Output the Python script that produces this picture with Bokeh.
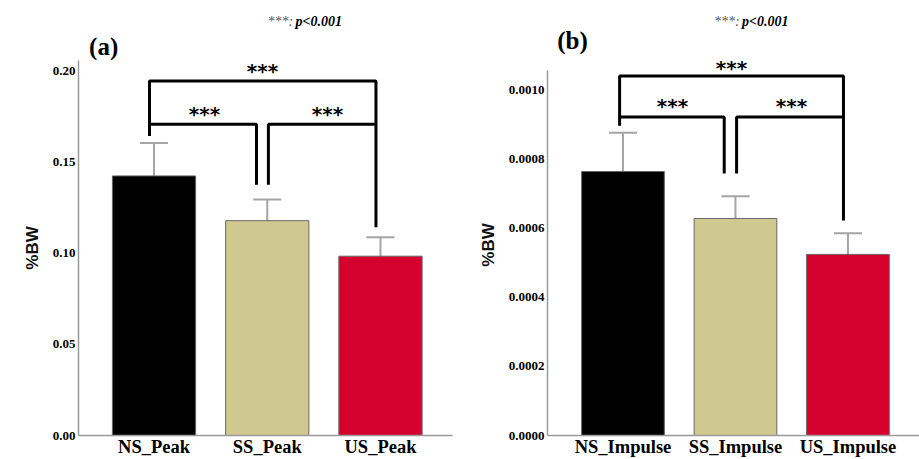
from bokeh.plotting import figure
from bokeh.models import ColumnDataSource, Whisker, TeeHead, Label, FixedTicker, Range1d
from bokeh.layouts import row, column
from bokeh.embed import file_html
from bokeh.resources import INLINE

# ---- data ----
peak_labels = ["NS_Peak", "SS_Peak", "US_Peak"]
peak_mean = [0.1426, 0.1180, 0.0985]
peak_lower = [0.1246, 0.1066, 0.0880]
peak_upper = [0.1607, 0.1297, 0.1089]

imp_labels = ["NS_Impulse", "SS_Impulse", "US_Impulse"]
imp_mean = [0.000764, 0.000628, 0.000524]
imp_lower = [0.000651, 0.000562, 0.000464]
imp_upper = [0.000876, 0.000692, 0.000585]

bar_colors = ["#000000", "#cfc98f", "#d6002f"]

peak_ticks = [0.00, 0.05, 0.10, 0.15, 0.20]
imp_ticks = [0.0, 0.0002, 0.0004, 0.0006, 0.0008, 0.0010]

SERIF = "Liberation Serif"
SANS = "Liberation Sans"
TOTAL_H = 459


def make_header(width, height, tag, tag_x, tag_y, note_x):
    h = figure(width=width, height=height, output_backend="svg", toolbar_location=None,
               x_range=Range1d(0, width), y_range=Range1d(height, 0),
               x_axis_type=None, y_axis_type=None,
               min_border_left=0, min_border_right=0, min_border_top=0, min_border_bottom=0)
    h.outline_line_color = None
    h.grid.visible = False
    h.add_layout(Label(x=tag_x, y=tag_y, text=tag, text_font=SERIF, text_font_style="bold",
                       text_font_size="25px", text_color="black",
                       text_baseline="middle", text_align="left"))
    h.add_layout(Label(x=note_x, y=21, text="***:", text_font=SERIF, text_font_style="italic",
                       text_font_size="14px", text_color="#555555",
                       text_baseline="middle", text_align="right"))
    h.add_layout(Label(x=note_x + 3, y=21, text="p<0.001", text_font=SERIF,
                       text_font_style="bold italic", text_font_size="14px",
                       text_color="black", text_baseline="middle", text_align="left"))
    return h


def make_panel(labels, mean, lower, upper, ticks, tick_fmt, y_end, y_axis_top, x_start, x_end,
               width, height, b_left, b_right, brackets, stars):
    xs = list(range(len(labels)))
    src = ColumnDataSource(dict(x=xs, top=mean, lower=lower, upper=upper, color=bar_colors))
    p = figure(width=width, height=height, output_backend="svg", toolbar_location=None,
               x_range=(x_start, x_end), y_range=(0, y_end),
               min_border_left=b_left, min_border_right=b_right,
               min_border_top=0, min_border_bottom=10)
    p.outline_line_color = None
    p.grid.visible = False
    p.background_fill_color = "white"
    p.border_fill_color = "white"

    p.vbar(x="x", top="top", width=0.735, bottom=0, source=src, fill_color="color",
           line_color="#666666", line_width=1)

    w = Whisker(base="x", lower="lower", upper="upper", source=src,
                line_color="#a5a5a5", line_width=2,
                upper_head=TeeHead(size=28, line_color="#a5a5a5", line_width=2),
                lower_head=TeeHead(size=28, line_color="#a5a5a5", line_width=2))
    p.add_layout(w)

    for bx, by in brackets:
        p.line(bx, by, line_color="black", line_width=3)
    for sx, sy in stars:
        p.text([sx], [sy], text=["***"], text_align="center", text_baseline="middle",
               text_font_size="20px", text_font_style="bold", text_color="black",
               y_offset=4, text_font={"value": "DejaVu Sans"})

    # axes
    p.xaxis.ticker = FixedTicker(ticks=xs)
    p.xaxis.major_label_overrides = {i: l for i, l in enumerate(labels)}
    p.xaxis.major_label_text_font = SERIF
    p.xaxis.major_label_text_font_style = "bold"
    p.xaxis.major_label_text_font_size = "18.5px"
    p.xaxis.major_label_text_color = "black"
    p.xaxis.major_label_standoff = 1
    p.xaxis.major_tick_out = 0
    p.xaxis.major_tick_in = 0
    p.xaxis.minor_tick_out = 0
    p.xaxis.minor_tick_in = 0
    p.xaxis.major_tick_line_color = None
    p.xaxis.minor_tick_line_color = None
    p.xaxis.axis_line_color = "#9a9a9a"
    p.xaxis.axis_line_width = 1.5

    p.yaxis.ticker = FixedTicker(ticks=ticks)
    p.yaxis.bounds = (0, y_axis_top)
    p.yaxis.major_label_overrides = {t: tick_fmt.format(t) for t in ticks}
    p.yaxis.major_label_text_font = SERIF
    p.yaxis.major_label_text_font_style = "bold"
    p.yaxis.major_label_text_font_size = "13px"
    p.yaxis.major_label_text_color = "black"
    p.yaxis.major_label_standoff = 3
    p.yaxis.major_tick_out = 0
    p.yaxis.major_tick_in = 0
    p.yaxis.minor_tick_out = 0
    p.yaxis.minor_tick_in = 0
    p.yaxis.major_tick_line_color = None
    p.yaxis.minor_tick_line_color = None
    p.yaxis.axis_line_color = "#9a9a9a"
    p.yaxis.axis_line_width = 1.5
    p.yaxis.axis_label = "%BW"
    p.yaxis.axis_label_text_font = SANS
    p.yaxis.axis_label_text_font_style = "bold"
    p.yaxis.axis_label_text_font_size = "17px"
    p.yaxis.axis_label_text_color = "#111111"
    p.yaxis.axis_label_standoff = 8
    return p


brackets_a = [
    ([-0.04, -0.04, 1.96, 1.96], [0.1645, 0.1947, 0.1947, 0.1144]),
    ([-0.04, 0.905, 0.905], [0.171, 0.171, 0.1377]),
    ([1.01, 1.01, 1.96], [0.1377, 0.171, 0.171]),
]
stars_a = [(0.958, 0.2027), (0.446, 0.179), (1.532, 0.179)]

brackets_b = [
    ([-0.03, -0.03, 1.96, 1.96], [0.000896, 0.00104, 0.00104, 0.000622]),
    ([-0.03, 0.90, 0.90], [0.000922, 0.000922, 0.000758]),
    ([1.01, 1.01, 1.96], [0.000758, 0.000922, 0.000922]),
]
stars_b = [(0.964, 0.001075), (0.44, 0.000965), (1.498, 0.000965)]

HEAD_A = 60
HEAD_B = 54
ha = make_header(460, HEAD_A, "(a)", 13, 46, 264)
hb = make_header(459, HEAD_B, "(b)", 12, 40, 237)
pa = make_panel(peak_labels, peak_mean, peak_lower, peak_upper, peak_ticks, "{:.2f}",
                0.2060, 0.2060, -0.667, 2.636, 460, TOTAL_H - HEAD_A, 78, 8,
                brackets_a, stars_a)
pb = make_panel(imp_labels, imp_mean, imp_lower, imp_upper, imp_ticks, "{:.4f}",
                0.0011025, 0.001055, -0.671, 2.636, 459, TOTAL_H - HEAD_B, 87, 0,
                brackets_b, stars_b)

layout = row(column(ha, pa), column(hb, pb))
open("out.html", "w").write(file_html(layout, INLINE))
